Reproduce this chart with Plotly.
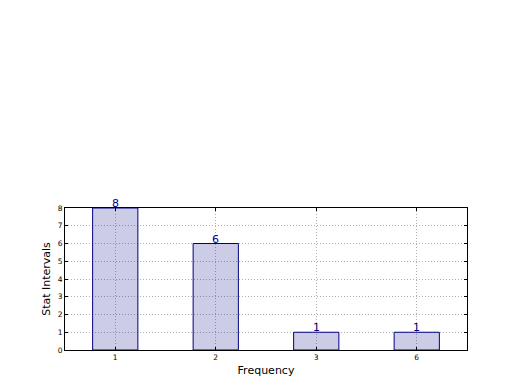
import plotly.graph_objects as go

categories = ["1", "2", "3", "6"]
values = [8, 6, 1, 1]
y_ticks = [0, 1, 2, 3, 4, 5, 6, 7, 8]

fig = go.Figure()
fig.add_trace(go.Bar(
    x=categories,
    y=values,
    width=0.45,
    marker=dict(color="rgba(0,0,128,0.2)", line=dict(color="navy", width=1)),
    cliponaxis=False,
))

# on a category axis, annotation x is the category's index position
for i, v in enumerate(values):
    fig.add_annotation(
        x=i, y=v, xref="x", yref="y", text=str(values[i]), showarrow=False,
        xanchor="center", yanchor="bottom", yshift=-4,
        font=dict(color="navy", size=11, family="DejaVu Sans"),
    )

grid_dash = "1px,2px"
fig.update_layout(
    width=520, height=390,
    margin=dict(l=57, r=61, t=200, b=48),
    paper_bgcolor="white", plot_bgcolor="white",
    showlegend=False,
    font=dict(family="DejaVu Sans", color="black"),
    xaxis=dict(
        type="category", range=[-0.5, 3.5],
        showline=True, linecolor="black", linewidth=1, mirror="ticks",
        ticks="inside", ticklen=3, tickcolor="black",
        showgrid=True, gridcolor="#b0b0b0", griddash=grid_dash, gridwidth=1,
        tickfont=dict(size=7.5),
        title=dict(text="Frequency", font=dict(size=11), standoff=5),
    ),
    yaxis=dict(
        range=[0, 8], tickvals=y_ticks,
        showline=True, linecolor="black", linewidth=1, mirror="ticks",
        ticks="inside", ticklen=3, tickcolor="black",
        showgrid=True, gridcolor="#b0b0b0", griddash=grid_dash, gridwidth=1,
        zeroline=False,
        tickfont=dict(size=7.5),
        title=dict(text="Stat Intervals", font=dict(size=11), standoff=4),
    ),
)

fig.write_html("out.html")
